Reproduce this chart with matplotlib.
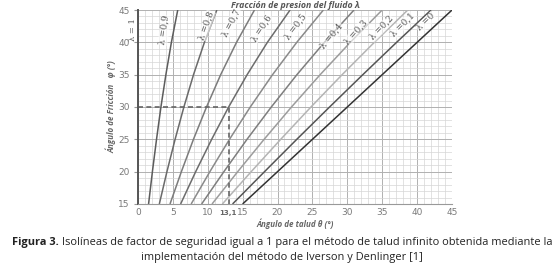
import matplotlib.pyplot as plt
import numpy as np

# friction angle phi (deg) sampled along each isoline
phi = [15, 20, 25, 30, 35, 40, 45]

# slope angle theta (deg) read for each lambda isoline
lambdas = ['0,9', '0,8', '0,7', '0,6', '0,5', '0,4', '0,3', '0,2', '0,1', '0']
theta = [
    [1.53, 2.08, 2.67, 3.30, 4.01, 4.80, 5.71],
    [3.07, 4.16, 5.33, 6.59, 7.97, 9.53, 11.31],
    [4.60, 6.23, 7.96, 9.83, 11.86, 14.13, 16.70],
    [6.12, 8.28, 10.57, 13.00, 15.65, 18.55, 21.80],
    [7.63, 10.31, 13.12, 16.10, 19.29, 22.76, 26.57],
    [9.13, 12.32, 15.63, 19.11, 22.78, 26.72, 30.96],
    [10.62, 14.30, 18.08, 22.00, 26.11, 30.43, 34.99],
    [12.10, 16.23, 20.46, 24.79, 29.26, 33.87, 38.66],
    [13.56, 18.14, 22.76, 27.46, 32.22, 37.06, 41.99],
    [15.0, 20.0, 25.0, 30.0, 35.0, 40.0, 45.0],
]
colors = ['#5c5c5c', '#6a6a6a', '#7c7c7c', '#6c6c6c', '#8a8a8a',
          '#7e7e7e', '#9c9c9c', '#b4b4b4', '#555555', '#333333']

# label anchor positions (theta, phi) and rotation
lab_x = [3.8, 9.8, 13.4, 17.7, 22.7, 27.8, 31.3, 34.9, 37.9, 41.3]
lab_y = [41.9, 42.6, 43.0, 42.2, 42.4, 41.0, 41.6, 42.2, 42.7, 43.1]
lab_rot = [82, 70, 62, 57, 53, 50, 48, 46, 45, 44]

# reading example: phi = 30 -> theta = 13,1
ex_phi = 30
ex_theta = 13.1

fig = plt.figure(figsize=(5.56, 2.74), dpi=100)
ax = fig.add_axes([0.248, 0.2555, 0.565, 0.708])

ax.set_xlim(0, 45)
ax.set_ylim(15, 45)
ax.set_xticks(np.arange(0, 46, 5))
ax.set_yticks(np.arange(15, 46, 5))
ax.set_xticks(np.arange(0, 46, 1), minor=True)
ax.set_yticks(np.arange(15, 46, 1), minor=True)
ax.grid(which='major', color='#b0b0b0', lw=0.7)
ax.grid(which='minor', color='#d6d6d6', lw=0.5)
ax.set_axisbelow(True)
for s in ['top', 'right']:
    ax.spines[s].set_visible(False)
ax.spines['left'].set_color('#555555')
ax.spines['left'].set_linewidth(1.4)
ax.spines['bottom'].set_color('#999999')
ax.tick_params(which='both', length=0, labelsize=6.5, labelcolor='#7a7a7a', pad=3)
ax.tick_params(axis='y', which='major', length=3, color='#999999')

for i in range(len(lambdas)):
    ax.plot(theta[i], phi, color=colors[i], lw=1.1, solid_capstyle='butt')
    ax.text(lab_x[i], lab_y[i], 'λ =' + lambdas[i], rotation=lab_rot[i],
            fontsize=6.3, color='#555555', ha='center', va='center',
            family='DejaVu Serif',
            bbox=dict(facecolor='white', edgecolor='none', pad=0.3, alpha=0.6))

ax.text(-0.7, 42.0, 'λ = 1', rotation=90, fontsize=6, color='#555555',
        ha='center', va='center', family='DejaVu Serif')

ax.plot([0, ex_theta, ex_theta], [ex_phi, ex_phi, 15], color='#666666',
        lw=1.2, ls=(0, (3, 2)))
ax.annotate('13,1', xy=(ex_theta, 15), xytext=(-1, -4), textcoords='offset points',
            fontsize=5, fontweight='bold', color='#666666', ha='center', va='top')

ax.text(0.5, 1.0, 'Fracción de presion del fluido λ', transform=ax.transAxes,
        fontsize=6.3, fontstyle='italic', fontweight='bold', color='#555555',
        ha='center', va='bottom', family='Open Sans')
ax.set_xlabel('Ángulo de talud θ (°)', fontsize=5.8, fontstyle='italic',
              fontweight='bold', color='#666666', labelpad=1, family='Open Sans')
ax.set_ylabel('Ángulo de Fricción   φ (°)', fontsize=5.8, fontstyle='italic',
              fontweight='bold', color='#666666', labelpad=1, family='Open Sans')

# caption: bold prefix followed by regular text
fig.canvas.draw()
r = fig.canvas.get_renderer()
cap_size = 7.9
t1 = fig.text(0, 0.115, 'Figura 3.', fontsize=cap_size, fontweight='bold',
              va='center', color='#222222', family='Open Sans')
t2 = fig.text(0, 0.115, ' Isolíneas de factor de seguridad igual a 1 para el método de talud infinito obtenida mediante la',
              fontsize=cap_size, va='center', color='#222222', family='Open Sans')
w1 = t1.get_window_extent(r).width
w2 = t2.get_window_extent(r).width
x0 = (556 - w1 - w2) / 2 + 4
t1.set_x(x0 / 556)
t2.set_x((x0 + w1) / 556)
fig.text(0.507, 0.062, 'implementación del método de Iverson y Denlinger [1]',
         fontsize=cap_size, ha='center', va='center', color='#222222', family='Open Sans')

fig.savefig('out.png', dpi=100)
